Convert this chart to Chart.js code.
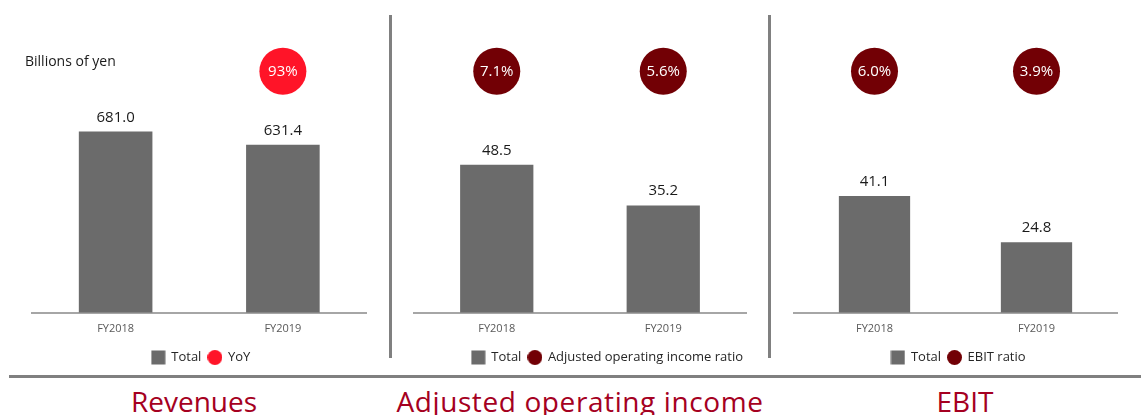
<!DOCTYPE html>
<html>
<head>
<meta charset="utf-8">
<script src="https://cdn.jsdelivr.net/npm/chart.js@4.4.1/dist/chart.umd.min.js"></script>
<style>
  html, body { margin: 0; padding: 0; background: #fff; overflow: hidden; }
  body { width: 1141px; height: 415px; position: relative; font-family: "Open Sans", sans-serif; }
  .panel { position: absolute; top: 0; height: 376px; }
  .vline { position: absolute; top: 15px; height: 343px; width: 3px; background: #808080; }
  .hline { position: absolute; left: 9px; right: 0; top: 375px; height: 3px; background: #808080; }
  .title { position: absolute; top: 387px; line-height: 1; font-size: 28px; color: #a50021; text-align: center; white-space: nowrap; }
  .unit { position: absolute; left: 25px; top: 51px; font-size: 14px; color: #1a1a1a; }
</style>
</head>
<body>
<div class="panel" style="left:0;width:390px"><canvas id="c1"></canvas></div>
<div class="panel" style="left:390px;width:380px"><canvas id="c2"></canvas></div>
<div class="panel" style="left:770px;width:371px"><canvas id="c3"></canvas></div>
<div class="unit">Billions of yen</div>
<div class="vline" style="left:389px"></div>
<div class="vline" style="left:768px"></div>
<div class="hline"></div>
<div class="title" style="left:94px;width:200px">Revenues</div>
<div class="title" style="left:380px;width:400px;letter-spacing:0.6px">Adjusted operating income</div>
<div class="title" style="left:865px;width:200px">EBIT</div>
<script>
// data
var years = ['FY2018', 'FY2019'];
var revenues = [681.0, 631.4];
var revenuesYoY = [null, 93];
var adjOpIncome = [48.5, 35.2];
var adjOpRatio = [7.1, 5.6];
var ebit = [41.1, 24.8];
var ebitRatio = [6.0, 3.9];

var gray = '#6b6b6b';
var red = '#ff1428';
var darkRed = '#720005';

function swatch(kind, color) {
    var c = document.createElement('canvas');
    c.width = 15; c.height = 15;
    var g = c.getContext('2d');
    g.fillStyle = color;
    if (kind === 'circle') {
        g.beginPath(); g.arc(7.5, 7.5, 7.5, 0, Math.PI * 2); g.fill();
    } else {
        g.fillRect(0.5, 0.5, 14, 14);
    }
    return c;
}

var labelPlugin = {
    id: 'valueLabels',
    afterDatasetsDraw: function (chart) {
        var ctx = chart.ctx;
        ctx.save();
        ctx.textAlign = 'center';
        chart.data.datasets.forEach(function (ds, i) {
            var meta = chart.getDatasetMeta(i);
            meta.data.forEach(function (el, j) {
                var v = ds.data[j];
                if (v === null) return;
                if (ds.type === 'bar') {
                    ctx.fillStyle = '#1a1a1a';
                    ctx.font = '15px "Open Sans"';
                    ctx.textBaseline = 'alphabetic';
                    ctx.fillText(v.toFixed(1), el.x, el.y - 10);
                } else {
                    var r = ds.ratio[j];
                    ctx.fillStyle = '#ffffff';
                    ctx.font = '15px "Open Sans"';
                    ctx.textBaseline = 'middle';
                    ctx.fillText(r + '%', el.x, el.y + 1);
                }
            });
        });
        ctx.restore();
    }
};

function makeChart(id, values, ratio, ratioLabel, ratioColor, yMax, pad, legendAlign) {
    var ctx = document.getElementById(id);
    new Chart(ctx, {
        data: {
            labels: years,
            datasets: [{
                type: 'bar',
                label: 'Total',
                data: values,
                backgroundColor: gray,
                barPercentage: 0.88,
                categoryPercentage: 0.5,
                yAxisID: 'y'
            }, {
                type: 'line',
                label: ratioLabel,
                data: ratio.map(function (r) { return r === null ? null : 1; }),
                ratio: ratio.map(function (r) { return r === null ? null : r.toFixed(r >= 10 ? 0 : 1); }),
                showLine: false,
                pointRadius: 23.5,
                pointHoverRadius: 23.5,
                pointBorderWidth: 0,
                pointBackgroundColor: ratioColor,
                backgroundColor: ratioColor,
                yAxisID: 'y2'
            }]
        },
        options: {
            responsive: true,
            maintainAspectRatio: false,
            animation: false,
            events: [],
            layout: { padding: pad },
            scales: {
                x: {
                    grid: { display: false, drawTicks: false },
                    border: { color: '#a6a6a6', width: 2 },
                    ticks: { color: '#595959', font: { size: 11, family: 'Open Sans' }, padding: 9 }
                },
                y: { display: false, min: 0, max: yMax },
                y2: { display: false, min: 0, max: 1.129 }
            },
            plugins: {
                tooltip: { enabled: false },
                legend: {
                    position: 'bottom',
                    align: legendAlign || 'center',
                    labels: {
                        usePointStyle: true,
                        boxWidth: 15,
                        boxHeight: 15,
                        padding: 7,
                        color: '#262626',
                        font: { size: 13, family: 'Open Sans' },
                        generateLabels: function (chart) {
                            var items = Chart.defaults.plugins.legend.labels.generateLabels(chart);
                            items[0].pointStyle = swatch('rect', gray);
                            items[1].pointStyle = swatch('circle', ratioColor);
                            return items;
                        }
                    }
                }
            }
        },
        plugins: [labelPlugin]
    });
}

makeChart('c1', revenues, revenuesYoY, 'YoY', red, 1025, { top: 40, left: 32, right: 20, bottom: 2 });
makeChart('c2', adjOpIncome, adjOpRatio, 'Adjusted operating income ratio', darkRed, 89.4, { top: 40, left: 21, right: 20, bottom: 2 }, 'end');
makeChart('c3', ebit, ebitRatio, 'EBIT ratio', darkRed, 96, { top: 40, left: 19, right: 13, bottom: 2 });
</script>
</body>
</html>
